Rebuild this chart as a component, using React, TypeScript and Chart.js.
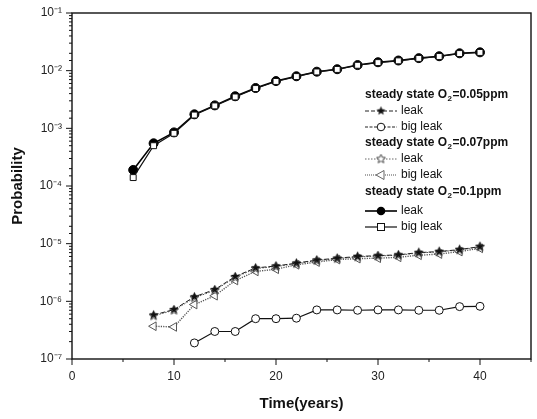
import React, { useEffect, useRef } from 'react';
import { Chart, registerables } from 'chart.js';

Chart.register(...registerables);

// ---- data ----
const yearsTop = [6, 8, 10, 12, 14, 16, 18, 20, 22, 24, 26, 28, 30, 32, 34, 36, 38, 40];
const yearsMid = [8, 10, 12, 14, 16, 18, 20, 22, 24, 26, 28, 30, 32, 34, 36, 38, 40];
const yearsLow = [12, 14, 16, 18, 20, 22, 24, 26, 28, 30, 32, 34, 36, 38, 40];

const leak01 = [1.9e-4, 5.5e-4, 8.5e-4, 1.75e-3, 2.5e-3, 3.6e-3, 5.0e-3, 6.6e-3, 8.0e-3, 9.6e-3, 1.06e-2, 1.25e-2, 1.4e-2, 1.5e-2, 1.65e-2, 1.78e-2, 2.0e-2, 2.08e-2];
const bigLeak01 = [1.4e-4, 5.0e-4, 8.2e-4, 1.7e-3, 2.45e-3, 3.5e-3, 4.9e-3, 6.5e-3, 7.9e-3, 9.5e-3, 1.05e-2, 1.24e-2, 1.38e-2, 1.48e-2, 1.63e-2, 1.76e-2, 1.98e-2, 2.07e-2];
const leak005 = [5.8e-7, 7.2e-7, 1.2e-6, 1.6e-6, 2.7e-6, 3.8e-6, 4.1e-6, 4.6e-6, 5.2e-6, 5.6e-6, 6.0e-6, 6.2e-6, 6.4e-6, 7.0e-6, 7.3e-6, 7.9e-6, 8.9e-6];
const leak007 = [5.6e-7, 7.0e-7, 1.15e-6, 1.55e-6, 2.6e-6, 3.7e-6, 4.0e-6, 4.5e-6, 5.1e-6, 5.5e-6, 5.9e-6, 6.1e-6, 6.3e-6, 6.9e-6, 7.2e-6, 7.8e-6, 8.8e-6];
const bigLeak007 = [3.7e-7, 3.6e-7, 8.8e-7, 1.25e-6, 2.3e-6, 3.3e-6, 3.6e-6, 4.3e-6, 4.8e-6, 5.3e-6, 5.5e-6, 5.6e-6, 5.8e-6, 6.3e-6, 6.6e-6, 7.3e-6, 8.3e-6];
const bigLeak005 = [1.9e-7, 3.0e-7, 3.0e-7, 5.0e-7, 5.0e-7, 5.1e-7, 7.1e-7, 7.1e-7, 7.0e-7, 7.1e-7, 7.1e-7, 7.0e-7, 7.0e-7, 8.1e-7, 8.2e-7];

const xTickLabels = ['0', '10', '20', '30', '40'];
const yTickLabels = ['10⁻⁷', '10⁻⁶', '10⁻⁵', '10⁻⁴', '10⁻³', '10⁻²', '10⁻¹'];

const headers = ['steady state O|2|=0.05ppm', 'steady state O|2|=0.07ppm', 'steady state O|2|=0.1ppm'];
const itemLabels = ['leak', 'big leak'];
const xTitle = 'Time(years)';
const yTitle = 'Probability';

const FONT = '"Liberation Sans", Arial, sans-serif';

function makeStar(filled: boolean, color: string, size: number) {
  const c = document.createElement('canvas');
  c.width = size;
  c.height = size;
  const ctx = c.getContext('2d')!;
  const cx = size / 2, cy = size / 2;
  const R = size / 2 - 0.8, r = R * 0.45;
  ctx.beginPath();
  for (let i = 0; i < 10; i++) {
    const rad = i % 2 === 0 ? R : r;
    const a = -Math.PI / 2 + (i * Math.PI) / 5;
    const px = cx + rad * Math.cos(a), py = cy + rad * Math.sin(a);
    if (i === 0) ctx.moveTo(px, py); else ctx.lineTo(px, py);
  }
  ctx.closePath();
  if (filled) {
    ctx.fillStyle = color;
    ctx.fill();
  } else {
    ctx.fillStyle = '#fff';
    ctx.fill();
    ctx.strokeStyle = color;
    ctx.lineWidth = 1;
    ctx.stroke();
  }
  return c;
}

function pts(xs: number[], ys: number[]) {
  return xs.map((x, i) => ({ x, y: ys[i] }));
}

export default function App() {
  const ref = useRef<HTMLCanvasElement>(null);

  useEffect(() => {
    if (!ref.current) return;
    const starFilled = makeStar(true, '#111', 11);
    const starOpen = makeStar(false, '#444', 11);

    const series = [
      { key: 'bigLeak01', data: pts(yearsTop, bigLeak01), pointStyle: 'rect', radius: 4.2, bg: '#fff', color: '#111', width: 1.2, dash: [] as number[] },
      { key: 'leak01', data: pts(yearsTop, leak01), pointStyle: 'circle', radius: 4.5, bg: '#000', color: '#000', width: 1.6, dash: [] as number[] },
      { key: 'leak005', data: pts(yearsMid, leak005), pointStyle: starFilled as any, radius: 5, bg: '#111', color: '#222', width: 1, dash: [5, 2] },
      { key: 'leak007', data: pts(yearsMid, leak007), pointStyle: starOpen as any, radius: 5, bg: '#fff', color: '#555', width: 1, dash: [1.5, 1.5] },
      { key: 'bigLeak007', data: pts(yearsMid, bigLeak007), pointStyle: 'triangle', radius: 5, bg: 'rgba(255,255,255,0.9)', color: '#555', width: 1.4, dash: [1.2, 1.2], rot: -90 },
      { key: 'bigLeak005', data: pts(yearsLow, bigLeak005), pointStyle: 'circle', radius: 4, bg: '#fff', color: '#111', width: 1.2, dash: [] as number[] },
    ];

    const datasets = series.map((s: any) => ({
      label: s.key,
      data: s.data,
      showLine: true,
      borderColor: s.color,
      borderWidth: s.width,
      borderDash: s.dash,
      pointStyle: s.pointStyle,
      pointRadius: s.radius,
      pointBackgroundColor: s.bg,
      pointBorderColor: s.color,
      pointBorderWidth: 1,
      pointRotation: s.rot || 0,
      tension: 0,
      fill: false,
    }));

    const drawMarker = (ctx: CanvasRenderingContext2D, kind: string, x: number, y: number) => {
      ctx.save();
      ctx.setLineDash([]);
      ctx.lineWidth = 1;
      if (kind === 'starFilled') ctx.drawImage(starFilled, x - 5.5, y - 5.5);
      else if (kind === 'starOpen') ctx.drawImage(starOpen, x - 5.5, y - 5.5);
      else if (kind === 'circleOpen') {
        ctx.beginPath(); ctx.arc(x, y, 3.8, 0, Math.PI * 2);
        ctx.fillStyle = '#fff'; ctx.fill(); ctx.strokeStyle = '#111'; ctx.stroke();
      } else if (kind === 'circleFilled') {
        ctx.beginPath(); ctx.arc(x, y, 4.3, 0, Math.PI * 2);
        ctx.fillStyle = '#000'; ctx.fill();
      } else if (kind === 'square') {
        ctx.fillStyle = '#fff'; ctx.fillRect(x - 3.5, y - 3.5, 7, 7);
        ctx.strokeStyle = '#111'; ctx.strokeRect(x - 3.5, y - 3.5, 7, 7);
      } else if (kind === 'triLeft') {
        ctx.beginPath(); ctx.moveTo(x - 5, y); ctx.lineTo(x + 3, y - 4.5); ctx.lineTo(x + 3, y + 4.5); ctx.closePath();
        ctx.fillStyle = '#fff'; ctx.fill(); ctx.strokeStyle = '#666'; ctx.stroke();
      }
      ctx.restore();
    };

    const legendPlugin = {
      id: 'customLegend',
      afterDraw(chart: any) {
        const ctx: CanvasRenderingContext2D = chart.ctx;
        const left = 365;
        const headerY = [95, 143, 192];
        const itemDefs = [
          [{ kind: 'starFilled', color: '#222', dash: [4, 2], w: 1, dy: 16 }, { kind: 'circleOpen', color: '#222', dash: [3, 1.5], w: 1, dy: 32 }],
          [{ kind: 'starOpen', color: '#666', dash: [1.5, 1.5], w: 1, dy: 16 }, { kind: 'triLeft', color: '#777', dash: [1, 1], w: 1.3, dy: 32 }],
          [{ kind: 'circleFilled', color: '#000', dash: [], w: 1.6, dy: 19 }, { kind: 'square', color: '#111', dash: [], w: 1.2, dy: 35 }],
        ];
        ctx.save();
        ctx.textBaseline = 'middle';
        headers.forEach((h, gi) => {
          const parts = h.split('|');
          let x = left;
          const y = headerY[gi];
          ctx.fillStyle = '#111';
          ctx.font = `bold 12px ${FONT}`;
          ctx.textAlign = 'left';
          ctx.fillText(parts[0], x, y);
          x += ctx.measureText(parts[0]).width;
          ctx.font = `bold 8px ${FONT}`;
          ctx.fillText(parts[1], x + 0.5, y + 4);
          x += ctx.measureText(parts[1]).width + 1;
          ctx.font = `bold 12px ${FONT}`;
          ctx.fillText(parts[2], x, y);
          itemDefs[gi].forEach((it, ii) => {
            const iy = y + it.dy;
            ctx.save();
            ctx.strokeStyle = it.color;
            ctx.lineWidth = it.w;
            ctx.setLineDash(it.dash);
            ctx.beginPath(); ctx.moveTo(left, iy); ctx.lineTo(left + 32, iy); ctx.stroke();
            ctx.restore();
            drawMarker(ctx, it.kind, left + 16, iy);
            ctx.font = `12px ${FONT}`;
            ctx.fillStyle = '#111';
            ctx.fillText(itemLabels[ii], left + 36, iy);
          });
        });
        ctx.restore();
      },
    };

    const framePlugin = {
      id: 'frame',
      afterDraw(chart: any) {
        const ctx: CanvasRenderingContext2D = chart.ctx;
        const { left, right, top, bottom } = chart.chartArea;
        const xs = chart.scales.x, ys = chart.scales.y;
        ctx.save();
        ctx.strokeStyle = '#111';
        ctx.lineWidth = 1;
        ys.ticks.forEach((t: any) => {
          const p = ys.getPixelForValue(t.value);
          const lg = Math.log10(t.value);
          const major = Math.abs(lg - Math.round(lg)) < 1e-6;
          const len = major ? 6 : 3;
          ctx.beginPath(); ctx.moveTo(left, p); ctx.lineTo(left - len, p); ctx.stroke();
        });
        xs.ticks.forEach((t: any) => {
          const p = xs.getPixelForValue(t.value);
          const len = t.value % 10 === 0 ? 6 : 3;
          ctx.beginPath(); ctx.moveTo(p, bottom); ctx.lineTo(p, bottom + len); ctx.stroke();
        });
        ctx.lineWidth = 1.4;
        ctx.strokeRect(left, top, right - left, bottom - top);
        ctx.restore();
      },
    };

    const chart = new Chart(ref.current, {
      type: 'scatter',
      data: { datasets },
      plugins: [framePlugin, legendPlugin],
      options: {
        animation: false,
        responsive: false,
        layout: { padding: { left: 0, right: 3.5, top: 13, bottom: 0 } },
        plugins: { legend: { display: false }, tooltip: { enabled: false } },
        scales: {
          x: {
            type: 'linear',
            min: 0,
            max: 45,
            afterFit: (s: any) => { s.height = 60; },
            grid: { display: false, drawTicks: true, tickLength: 6 },
            border: { display: false },
            ticks: {
              stepSize: 5,
              autoSkip: false,
              padding: 4,
              color: '#222',
              font: { family: FONT, size: 12 },
              maxRotation: 0,
              callback: (v: any) => {
                const i = xTickLabels.indexOf(String(v));
                return i >= 0 ? xTickLabels[i] : '';
              },
            },
            title: {
              display: true,
              text: xTitle,
              color: '#111',
              font: { family: FONT, size: 15, weight: 'bold' },
              padding: { top: 0, bottom: 6 },
            },
          },
          y: {
            type: 'logarithmic',
            min: 1e-7,
            max: 1e-1,
            afterFit: (s: any) => { s.width = 72; },
            grid: { display: false, drawTicks: true, tickLength: 6 },
            border: { display: false },
            ticks: {
              autoSkip: false,
              padding: 4,
              color: '#222',
              font: { family: FONT, size: 12 },
              callback: (v: any) => {
                const lg = Math.log10(Number(v));
                if (Math.abs(lg - Math.round(lg)) > 1e-6) return '';
                const idx = Math.round(lg) + 7;
                return yTickLabels[idx] ?? '';
              },
            },
            title: {
              display: true,
              text: yTitle,
              color: '#111',
              font: { family: FONT, size: 15, weight: 'bold' },
              padding: { top: 9, bottom: 0 },
            },
          },
        },
      },
    });
    return () => chart.destroy();
  }, []);

  return (
    <div style={{ position: 'fixed', left: 0, top: 0, width: 537, height: 419, background: '#fff' }}>
      <canvas ref={ref} width={537} height={419} style={{ display: 'block' }} />
    </div>
  );
}
